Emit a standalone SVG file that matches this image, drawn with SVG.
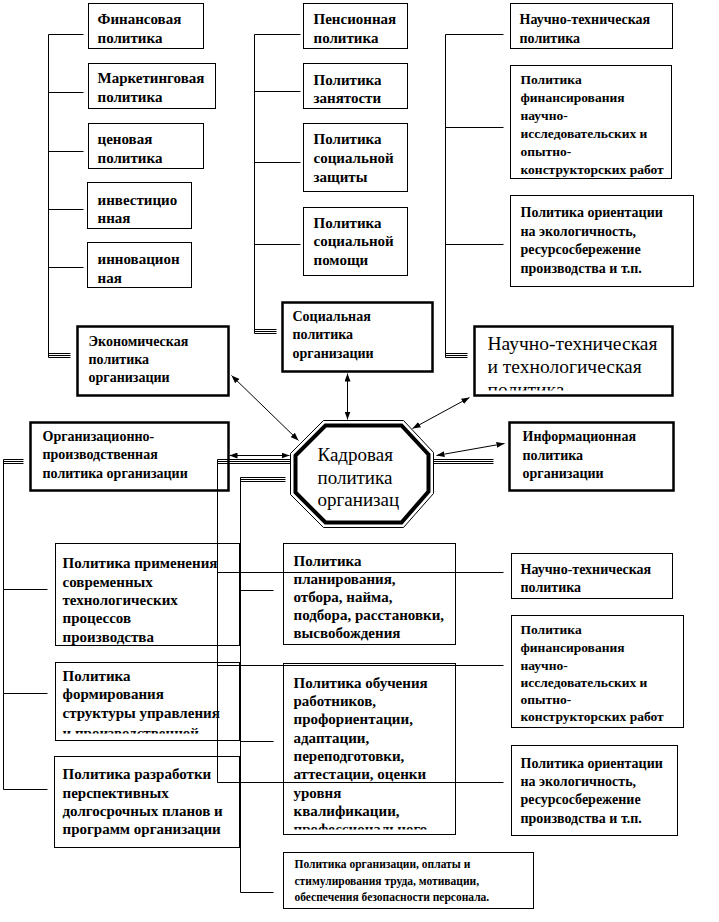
<svg xmlns="http://www.w3.org/2000/svg" width="719" height="922" viewBox="0 0 719 922">
<style>
.b{fill:#fff;stroke:#000;stroke-width:1}
.B{fill:#fff;stroke:#000;stroke-width:2.5}
text{font-family:"Liberation Serif","Times New Roman",serif;font-weight:bold;fill:#000}
.m{font-size:15px}
.s{font-size:14px}
.n{font-size:13.5px}
.x{font-size:11.5px}
.L{font-size:19.5px;font-weight:normal}
.O{font-size:19px;font-weight:normal}
.c{stroke:#000;stroke-width:1;fill:none}
.a{stroke:#000;stroke-width:1;fill:none;marker-start:url(#ah);marker-end:url(#ah)}
</style>
<defs>
<marker id="ah" viewBox="0 0 8 6" refX="8" refY="3" markerWidth="8" markerHeight="6" orient="auto-start-reverse" markerUnits="userSpaceOnUse"><path d="M0,0 L8,3 L0,6 z" fill="#000"/></marker>
<clipPath id="cNT"><rect x="474" y="326" width="198" height="64"/></clipPath>
<clipPath id="cForm"><rect x="55" y="662" width="184" height="71"/></clipPath>
<clipPath id="cObuch"><rect x="283" y="663" width="172" height="166"/></clipPath>
</defs>
<rect width="719" height="922" fill="#fff"/>
<g transform="translate(0.5 0.5)">

<g id="fin"><rect class="b" x="88" y="3" width="115" height="45"/><text class="m" x="97" y="23">Финансовая</text><text class="m" x="97" y="42">политика</text></g>
<g id="market"><rect class="b" x="88" y="63" width="127" height="45"/><text class="m" x="97" y="82">Маркетинговая</text><text class="m" x="97" y="101">политика</text></g>
<g id="price"><rect class="b" x="88" y="123" width="115" height="45"/><text class="m" x="97" y="143">ценовая</text><text class="m" x="97" y="162">политика</text></g>
<g id="invest"><rect class="b" x="87" y="182" width="104" height="46"/><text class="m" x="97" y="204">инвестицио</text><text class="m" x="97" y="222">нная</text></g>
<g id="innov"><rect class="b" x="87" y="242" width="104" height="45"/><text class="m" x="97" y="263">инновацион</text><text class="m" x="97" y="282">ная</text></g>
<g id="econ"><rect class="B" x="77" y="326" width="151" height="69"/><text class="s" x="88" y="345">Экономическая</text><text class="s" x="88" y="363">политика</text><text class="s" x="88" y="381">организации</text></g>

<g id="pens"><rect class="b" x="303" y="3" width="104" height="45"/><text class="m" x="313" y="23">Пенсионная</text><text class="m" x="313" y="42">политика</text></g>
<g id="zan"><rect class="b" x="303" y="63" width="104" height="45"/><text class="m" x="313" y="84">Политика</text><text class="m" x="313" y="102">занятости</text></g>
<g id="szash"><rect class="b" x="303" y="123" width="104" height="68"/><text class="m" x="313" y="143">Политика</text><text class="m" x="313" y="162">социальной</text><text class="m" x="313" y="181">защиты</text></g>
<g id="spom"><rect class="b" x="303" y="207" width="104" height="68"/><text class="m" x="313" y="227">Политика</text><text class="m" x="313" y="245">социальной</text><text class="m" x="313" y="264">помощи</text></g>
<g id="soc"><rect class="B" x="282" y="302" width="150" height="69"/><text class="s" x="292" y="320">Социальная</text><text class="s" x="292" y="338">политика</text><text class="s" x="292" y="357">организации</text></g>

<g id="nt1"><rect class="b" x="510" y="3" width="162" height="45"/><text class="s" x="519" y="23">Научно-техническая</text><text class="s" x="519" y="42">политика</text></g>
<g id="niokr1"><rect class="b" x="510" y="65" width="161" height="113"/><text class="n" x="520" y="83">Политика</text><text class="n" x="520" y="101">финансирования</text><text class="n" x="520" y="119">научно-</text><text class="n" x="520" y="137">исследовательских и</text><text class="n" x="520" y="155">опытно-</text><text class="n" x="520" y="173">конструкторских работ</text></g>
<g id="eco1"><rect class="b" x="510" y="195" width="183" height="91"/><text class="s" x="520" y="216">Политика ориентации</text><text class="s" x="520" y="235">на экологичность,</text><text class="s" x="520" y="253">ресурсосбережение</text><text class="s" x="520" y="272">производства и т.п.</text></g>
<g id="ntt"><rect class="B" x="474" y="326" width="198" height="69"/><g clip-path="url(#cNT)"><text class="L" x="487" y="349">Научно-техническая</text><text class="L" x="487" y="372">и технологическая</text><text class="L" x="487" y="395">политика</text></g></g>

<g id="orgprod"><rect class="B" x="30" y="422" width="198" height="68"/><text class="s" x="42" y="440">Организационно-</text><text class="s" x="42" y="458">производственная</text><text class="s" x="42" y="477">политика организации</text></g>
<g id="kadr"><polygon points="323,420 403,420 433,452 433,493 403,527 323,527 290,494 290,453" fill="#fff" stroke="#000" stroke-width="1"/><polygon points="325,425 401,425 428,454 428,491 401,522 325,522 295,492 295,455" fill="none" stroke="#000" stroke-width="4"/><text class="O" x="317" y="460">Кадровая</text><text class="O" x="317" y="483">политика</text><text class="O" x="317" y="505">организац</text></g>
<g id="inform"><rect class="B" x="509" y="422" width="164" height="68"/><text class="s" x="522" y="440">Информационная</text><text class="s" x="522" y="459">политика</text><text class="s" x="522" y="477">организации</text></g>

<g id="prim"><rect class="b" x="55" y="543" width="184" height="102"/><text class="m" x="62" y="567">Политика применения</text><text class="m" x="62" y="586">современных</text><text class="m" x="62" y="604">технологических</text><text class="m" x="62" y="622">процессов</text><text class="m" x="62" y="641">производства</text></g>
<g id="form"><rect class="b" x="55" y="662" width="184" height="78"/><g clip-path="url(#cForm)"><text class="m" x="62" y="680">Политика</text><text class="m" x="62" y="698">формирования</text><text class="m" x="62" y="717">структуры управления</text><text class="m" x="62" y="737">и производственной</text></g></g>
<g id="razr"><rect class="b" x="54" y="756" width="185" height="91"/><text class="m" x="62" y="778">Политика разработки</text><text class="m" x="62" y="797">перспективных</text><text class="m" x="62" y="815">долгосрочных планов и</text><text class="m" x="62" y="833">программ организации</text></g>

<g id="plan"><rect class="b" x="283" y="543" width="172" height="101"/><text class="m" x="293" y="565">Политика</text><text class="m" x="293" y="583">планирования,</text><text class="m" x="293" y="601">отбора, найма,</text><text class="m" x="293" y="619">подбора, расстановки,</text><text class="m" x="293" y="637">высвобождения</text></g>
<g id="obuch"><rect class="b" x="283" y="663" width="172" height="171"/><g clip-path="url(#cObuch)"><text class="m" x="293" y="687">Политика обучения</text><text class="m" x="293" y="705">работников,</text><text class="m" x="293" y="723">профориентации,</text><text class="m" x="293" y="742">адаптации,</text><text class="m" x="293" y="760">переподготовки,</text><text class="m" x="293" y="778">аттестации, оценки</text><text class="m" x="293" y="797">уровня</text><text class="m" x="293" y="815">квалификации,</text><text class="m" x="293" y="833">профессионального</text></g></g>
<g id="oplata"><rect class="b" x="283" y="852" width="250" height="56"/><text class="x" x="294" y="867">Политика организации, оплаты и</text><text class="x" x="294" y="884">стимулирования труда, мотивации,</text><text class="x" x="294" y="900">обеспечения безопасности персонала.</text></g>

<g id="nt2"><rect class="b" x="511" y="553" width="161" height="45"/><text class="s" x="520" y="573">Научно-техническая</text><text class="s" x="520" y="591">политика</text></g>
<g id="niokr2"><rect class="b" x="511" y="615" width="172" height="112"/><text class="n" x="520" y="633">Политика</text><text class="n" x="520" y="651">финансирования</text><text class="n" x="520" y="669">научно-</text><text class="n" x="520" y="686">исследовательских и</text><text class="n" x="520" y="703">опытно-</text><text class="n" x="520" y="720">конструкторских работ</text></g>
<g id="eco2"><rect class="b" x="511" y="745" width="166" height="90"/><text class="s" x="520" y="767">Политика ориентации</text><text class="s" x="520" y="785">на экологичность,</text><text class="s" x="520" y="803">ресурсосбережение</text><text class="s" x="520" y="822">производства и т.п.</text></g>

<g id="connectors">
<path class="c" d="M48,34 V357 M48,34 H83 M48,92 H83 M48,151 H83 M48,209 H83 M48,267 H83 M48,353 H70 M48,355 H70 M48,357 H70"/>
<path class="c" d="M254,34 V333 M254,34 H300 M254,91 H300 M254,162 H300 M254,244 H300 M254,329 H276 M254,331 H276 M254,333 H276"/>
<path class="c" d="M445,34 V357 M445,34 H503 M445,127 H503 M445,244 H503 M445,353 H467 M445,355 H467 M445,357 H467"/>
<path class="c" d="M3,459 V789 M3,459 H23 M3,461 H23 M3,463 H23 M3,589 H47 M3,693 H47 M3,789 H47"/>
<path class="c" d="M217,459 V782 M217,459 H290 M217,461 H290 M217,463 H290 M217,572 H503 M217,665 H503 M217,782 H503"/>
<path class="c" d="M240,477 V892 M240,477 H285 M240,479 H285 M240,481 H285 M240,590 H273 M240,741 H273 M240,892 H273"/>
<path class="c" d="M433,459 H493 M433,461 H493 M433,463 H493"/>
<line class="a" x1="229" y1="455" x2="289" y2="455"/>
<line class="a" x1="231" y1="375" x2="298" y2="440"/>
<line class="a" x1="347" y1="373" x2="347" y2="419"/>
<line class="a" x1="412" y1="428" x2="469" y2="397"/>
<line class="a" x1="436" y1="455" x2="504" y2="443"/>
</g>
</g>
</svg>
